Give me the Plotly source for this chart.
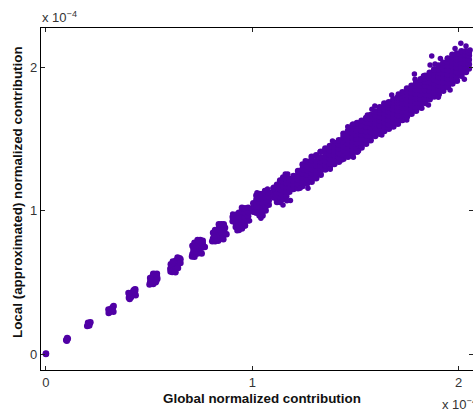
import plotly.graph_objects as go

# Values are in units of 1e-4.
small_x = [0.0, 0.0, 0.098, 0.103, 0.106, 0.101,
           0.200, 0.207, 0.213, 0.2155, 0.204, 0.210,
           0.304, 0.308, 0.312, 0.316, 0.320, 0.325, 0.328, 0.310, 0.322, 0.303, 0.327]
small_y = [0.0, 0.003, 0.098, 0.112, 0.106, 0.092,
           0.195, 0.202, 0.216, 0.222, 0.218, 0.198,
           0.285, 0.292, 0.300, 0.308, 0.318, 0.328, 0.335, 0.310, 0.305, 0.310, 0.295]

c4_x = [0.402, 0.406, 0.412, 0.404, 0.410, 0.418, 0.420, 0.413, 0.426, 0.428, 0.433, 0.424, 0.432, 0.400, 0.435]
c4_y = [0.392, 0.383, 0.395, 0.405, 0.412, 0.410, 0.425, 0.425, 0.432, 0.448, 0.452, 0.440, 0.438, 0.425, 0.410]

c5_x = [0.502, 0.510, 0.505, 0.520, 0.508, 0.520, 0.532, 0.515, 0.528, 0.518, 0.530, 0.538, 0.538, 0.527, 0.540, 0.505, 0.535, 0.520]
c5_y = [0.484, 0.490, 0.500, 0.488, 0.515, 0.505, 0.500, 0.530, 0.522, 0.545, 0.548, 0.540, 0.560, 0.558, 0.525, 0.530, 0.510, 0.560]

c6_x = [0.604, 0.612, 0.620, 0.603, 0.614, 0.625, 0.610, 0.622, 0.634, 0.620, 0.632, 0.642, 0.630, 0.640, 0.649, 0.638, 0.648, 0.652, 0.605, 0.615, 0.640, 0.652, 0.628]
c6_y = [0.575, 0.572, 0.578, 0.595, 0.597, 0.590, 0.615, 0.612, 0.610, 0.635, 0.632, 0.630, 0.652, 0.650, 0.648, 0.672, 0.668, 0.660, 0.625, 0.645, 0.600, 0.635, 0.570]

c7_x = [0.708, 0.720, 0.710, 0.722, 0.735, 0.715, 0.728, 0.742, 0.715, 0.730, 0.745, 0.755, 0.725, 0.738, 0.752, 0.740, 0.752, 0.760, 0.748, 0.760, 0.710, 0.720, 0.755, 0.770, 0.735]
c7_y = [0.680, 0.678, 0.695, 0.695, 0.700, 0.715, 0.715, 0.715, 0.735, 0.735, 0.735, 0.740, 0.755, 0.755, 0.755, 0.775, 0.780, 0.770, 0.795, 0.790, 0.755, 0.775, 0.700, 0.745, 0.795]

c8_x = [0.806, 0.820, 0.835, 0.810, 0.825, 0.840, 0.815, 0.830, 0.845, 0.858, 0.822, 0.838, 0.852, 0.865, 0.830, 0.845, 0.860, 0.840, 0.855, 0.868, 0.850, 0.862, 0.810, 0.820, 0.860, 0.875, 0.838]
c8_y = [0.785, 0.785, 0.790, 0.805, 0.805, 0.805, 0.825, 0.825, 0.825, 0.830, 0.845, 0.845, 0.845, 0.850, 0.865, 0.865, 0.865, 0.885, 0.885, 0.880, 0.905, 0.905, 0.845, 0.865, 0.800, 0.835, 0.905]

column_x = [0.905, 0.920, 0.935, 0.950, 0.965, 0.980,
            1.005, 1.020, 1.035, 1.050, 1.065, 1.080,
            1.105, 1.120, 1.135, 1.150, 1.165, 1.180,
            1.200, 1.222, 1.244, 1.266, 1.288, 1.310, 1.332, 1.354, 1.376, 1.398,
            1.420, 1.442, 1.464, 1.486, 1.508, 1.530, 1.552, 1.574, 1.596, 1.618,
            1.640, 1.662, 1.684, 1.706, 1.728, 1.750, 1.772, 1.794, 1.816, 1.838,
            1.860, 1.882, 1.904, 1.926, 1.948, 1.970, 1.992, 2.014, 2.036, 2.050]
column_y = [
    [0.925, 0.955], [0.885, 0.915, 0.945, 0.970], [0.865, 0.895, 0.925, 0.955, 0.985],
    [0.875, 0.905, 0.935, 0.965, 0.995, 1.020], [0.895, 0.925, 0.955, 0.985, 1.015], [0.930, 0.960, 0.990, 1.020],
    [0.992, 1.020, 1.050], [0.985, 1.015, 1.045, 1.075, 1.105], [0.965, 0.995, 1.025, 1.055, 1.085, 1.115],
    [0.965, 0.995, 1.025, 1.055, 1.085, 1.115], [1.000, 1.030, 1.060, 1.090, 1.120], [1.040, 1.070, 1.100, 1.125],
    [1.090, 1.120, 1.150], [1.060, 1.090, 1.120, 1.150, 1.180], [1.060, 1.090, 1.120, 1.150, 1.180, 1.210],
    [1.080, 1.110, 1.140, 1.170, 1.200, 1.230], [1.100, 1.130, 1.160, 1.190, 1.220], [1.130, 1.160, 1.190, 1.220],
    [1.150, 1.180, 1.210, 1.240], [1.155, 1.185, 1.215, 1.245, 1.275], [1.170, 1.200, 1.230, 1.260, 1.290, 1.320],
    [1.190, 1.220, 1.250, 1.280, 1.310, 1.340], [1.200, 1.230, 1.260, 1.290, 1.320, 1.350, 1.375],
    [1.225, 1.255, 1.285, 1.315, 1.345, 1.385], [1.250, 1.280, 1.310, 1.340, 1.370, 1.410],
    [1.285, 1.315, 1.345, 1.375, 1.405, 1.432], [1.300, 1.330, 1.360, 1.390, 1.420, 1.450],
    [1.325, 1.355, 1.385, 1.415, 1.445, 1.470], [1.340, 1.370, 1.400, 1.430, 1.460, 1.490],
    [1.360, 1.390, 1.420, 1.450, 1.480, 1.510, 1.535], [1.375, 1.405, 1.435, 1.465, 1.495, 1.525, 1.555],
    [1.390, 1.420, 1.450, 1.480, 1.510, 1.540, 1.570, 1.595], [1.410, 1.440, 1.470, 1.500, 1.530, 1.560, 1.590, 1.610],
    [1.440, 1.470, 1.500, 1.530, 1.560, 1.590, 1.625], [1.465, 1.495, 1.525, 1.555, 1.585, 1.615, 1.645],
    [1.490, 1.520, 1.550, 1.580, 1.610, 1.640, 1.665], [1.520, 1.550, 1.580, 1.610, 1.640, 1.665, 1.690],
    [1.535, 1.565, 1.595, 1.625, 1.655, 1.685, 1.705, 1.720], [1.555, 1.585, 1.615, 1.645, 1.675, 1.705, 1.725, 1.745],
    [1.570, 1.600, 1.630, 1.660, 1.690, 1.720, 1.740, 1.755], [1.585, 1.615, 1.645, 1.675, 1.705, 1.735, 1.755, 1.775],
    [1.605, 1.635, 1.665, 1.695, 1.725, 1.755, 1.775, 1.790], [1.630, 1.660, 1.690, 1.720, 1.750, 1.780, 1.805, 1.825],
    [1.655, 1.685, 1.715, 1.745, 1.775, 1.805, 1.830, 1.850], [1.675, 1.705, 1.735, 1.765, 1.795, 1.825, 1.850, 1.870],
    [1.695, 1.725, 1.755, 1.785, 1.815, 1.845, 1.870, 1.890], [1.720, 1.750, 1.780, 1.810, 1.840, 1.870, 1.895, 1.915],
    [1.750, 1.780, 1.810, 1.840, 1.870, 1.900, 1.920, 1.940], [1.775, 1.805, 1.835, 1.865, 1.895, 1.925, 1.945, 1.960],
    [1.795, 1.825, 1.855, 1.885, 1.915, 1.945, 1.965, 1.985], [1.810, 1.840, 1.870, 1.900, 1.930, 1.960, 1.985, 2.010],
    [1.835, 1.865, 1.895, 1.925, 1.955, 1.985, 2.010, 2.030], [1.860, 1.890, 1.920, 1.950, 1.980, 2.010, 2.035, 2.060],
    [1.885, 1.915, 1.945, 1.975, 2.005, 2.035, 2.060, 2.085], [1.905, 1.935, 1.965, 1.995, 2.025, 2.055, 2.075, 2.095],
    [1.940, 1.970, 2.000, 2.030, 2.060, 2.090, 2.110], [1.965, 1.995, 2.025, 2.055, 2.085, 2.110], [1.990, 2.020, 2.050, 2.080, 2.100],
]

stray_x = [0.905, 0.987, 0.966, 0.926, 1.023, 1.074, 1.042, 1.060, 1.006,
           1.103, 1.160, 1.172, 1.149, 1.168, 1.185, 1.270, 1.389, 1.515,
           1.594, 1.708, 1.749, 1.854, 1.786, 1.870, 2.011, 1.912, 1.830,
           1.463, 1.488, 1.558, 1.580, 1.329, 1.257, 1.100,
           1.434, 1.490, 1.628, 1.232, 1.329, 1.378,
           1.676, 1.789, 1.862, 1.886, 1.946, 1.983, 2.036, 2.056,
           1.959, 2.028, 1.822, 1.902]
stray_y = [0.976, 0.929, 0.894, 0.859, 1.124, 1.150, 0.946, 1.140, 0.992,
           1.162, 1.254, 1.254, 1.038, 1.068, 1.070, 1.155, 1.485, 1.415,
           1.728, 1.812, 1.631, 1.735, 1.951, 2.077, 2.165, 2.060, 1.940,
           1.584, 1.603, 1.666, 1.705, 1.410, 1.347, 1.155,
           1.352, 1.371, 1.526, 1.155, 1.263, 1.287,
           1.805, 1.914, 2.014, 2.021, 2.060, 2.130, 2.146, 2.119,
           1.840, 1.914, 1.712, 1.789]

x_ticks = [0, 1, 2]
y_ticks = [0, 1, 2]
x_title = "Global normalized contribution"
y_title = "Local (approximated) normalized contribution"
multiplier = "x 10<sup>−4</sup>"

fill_x = small_x + c4_x + c5_x + c6_x + c7_x + c8_x
fill_y = small_y + c4_y + c5_y + c6_y + c7_y + c8_y
for cx, ys in zip(column_x, column_y):
    fill_x += [cx] * len(ys)
    fill_y += ys

W, H = 473, 411
L, R, T, B = 40.5, 0, 28, 41
PW, PH = W - L - R, H - T - B
COLOR = "#5000a5"
FONT = "Liberation Sans"

fig = go.Figure()
fig.add_trace(go.Scatter(x=fill_x, y=fill_y, mode="markers", cliponaxis=False,
                         marker=dict(size=6.5, color=COLOR, line=dict(width=0))))
fig.add_trace(go.Scatter(x=stray_x, y=stray_y, mode="markers", cliponaxis=False,
                         marker=dict(size=5.5, color=COLOR, line=dict(width=0))))

axis_common = dict(
    ticks="inside", ticklen=4, tickwidth=1, tickcolor="#222222",
    showgrid=False, zeroline=False, showline=True, linecolor="black", linewidth=1.4,
    mirror="ticks", tickmode="array",
    tickfont=dict(family=FONT, size=13, color="#333333"),
)
fig.update_xaxes(range=[-0.024, 2.07], tickvals=x_ticks, ticktext=[str(v) for v in x_ticks], **axis_common)
fig.update_yaxes(range=[-0.1115, 2.272], tickvals=y_ticks, ticktext=[str(v) for v in y_ticks], **axis_common)

title_font = dict(family=FONT, size=13.4, color="#111111")
fig.add_annotation(xref="paper", yref="paper", x=(262 - L) / PW, y=-(28 / PH),
                   text=f"<b>{x_title}</b>", showarrow=False, xanchor="center", yanchor="middle", font=title_font)
fig.add_annotation(xref="paper", yref="paper", x=(16.5 - L) / PW, y=(H - B - 192) / PH,
                   text=f"<b>{y_title}</b>", textangle=-90, showarrow=False,
                   xanchor="center", yanchor="middle", font=title_font)

mult_font = dict(family=FONT, size=13, color="#333333")
fig.add_annotation(xref="paper", yref="paper", x=(39 - L) / PW, y=1 + 11 / PH,
                   text=multiplier, showarrow=False, xanchor="left", yanchor="middle", font=mult_font)
fig.add_annotation(xref="paper", yref="paper", x=(440 - L) / PW, y=-(34 / PH),
                   text=multiplier, showarrow=False, xanchor="left", yanchor="middle", font=mult_font)

fig.update_layout(width=W, height=H, margin=dict(l=L, r=R, t=T, b=B, pad=0, autoexpand=False),
                  plot_bgcolor="white", paper_bgcolor="white", showlegend=False)
fig.write_html("out.html", config={"displayModeBar": False},
               post_script="document.body.style.margin='0';document.documentElement.style.overflow='hidden';")
